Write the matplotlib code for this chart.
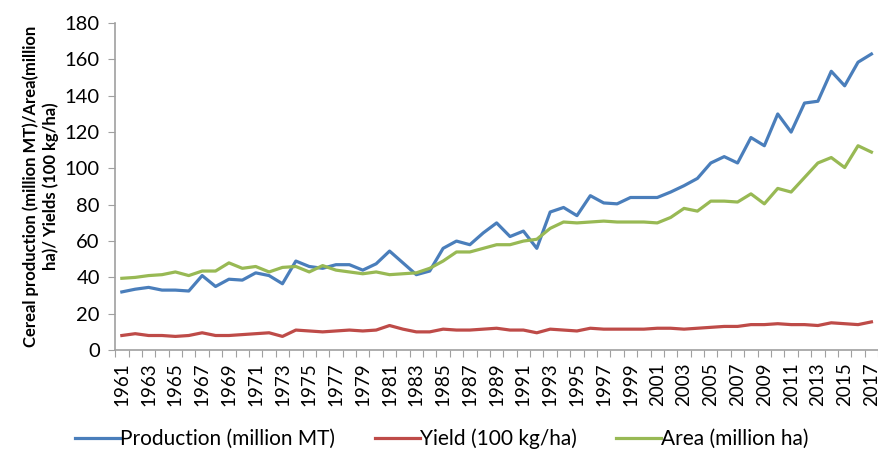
import matplotlib.pyplot as plt
from matplotlib.ticker import FixedLocator, NullFormatter

years = list(range(1961, 2018))

production = [
    32, 33.5, 34.5, 33, 33, 32.5, 41, 35, 39, 38.5,
    42.5, 41, 36.5, 49, 46, 45, 47, 47, 44, 47.5,
    54.5, 48, 41.5, 43.5, 56, 60, 58, 64.5, 70, 62.5,
    65.5, 56, 76, 78.5, 74, 85, 81, 80.5, 84, 84,
    84, 87, 90.5, 94.5, 103, 106.5, 103, 117, 112.5, 130,
    120, 136, 137, 153.5, 145.5, 158.5, 163,
]
yield_ = [
    8, 9, 8, 8, 7.5, 8, 9.5, 8, 8, 8.5,
    9, 9.5, 7.5, 11, 10.5, 10, 10.5, 11, 10.5, 11,
    13.5, 11.5, 10, 10, 11.5, 11, 11, 11.5, 12, 11,
    11, 9.5, 11.5, 11, 10.5, 12, 11.5, 11.5, 11.5, 11.5,
    12, 12, 11.5, 12, 12.5, 13, 13, 14, 14, 14.5,
    14, 14, 13.5, 15, 14.5, 14, 15.5,
]
area = [
    39.5, 40, 41, 41.5, 43, 41, 43.5, 43.5, 48, 45,
    46, 43, 45.5, 46, 43, 46.5, 44, 43, 42, 43,
    41.5, 42, 42.5, 45, 49, 54, 54, 56, 58, 58,
    60, 61, 67, 70.5, 70, 70.5, 71, 70.5, 70.5, 70.5,
    70, 73, 78, 76.5, 82, 82, 81.5, 86, 80.5, 89,
    87, 95, 103, 106, 100.5, 112.5, 109,
]

series = [
    ("Production (million MT)", production, "#4a7ebb"),
    ("Yield (100 kg/ha)", yield_, "#be4b48"),
    ("Area (million ha)", area, "#98b954"),
]

plt.rcParams["font.family"] = ["Lato", "DejaVu Sans"]

fig = plt.figure(figsize=(8.79, 4.54), dpi=100)
ax = fig.add_axes([0.131, 0.229, 0.868, 0.72])

for label, values, color in series:
    ax.plot(years, values, color=color, lw=2.3, label=label)

ax.set_xlim(years[0] - 0.5, years[-1] + 0.5)
ax.set_ylim(0, 180)
ax.set_yticks(range(0, 181, 20))

# ticks between categories, labels on every other year
ax.xaxis.set_major_locator(FixedLocator([y - 0.5 for y in years] + [years[-1] + 0.5]))
ax.xaxis.set_major_formatter(NullFormatter())
ax.set_xticks(years[::2], minor=True)
ax.set_xticklabels([str(y) for y in years[::2]], minor=True, rotation=90)
ax.tick_params(axis="x", which="minor", length=0, pad=9, labelsize=13.5)
ax.tick_params(axis="x", which="major", length=5, color="#a0a0a0")
ax.tick_params(axis="y", length=5, color="#a0a0a0", labelsize=14.5, pad=6)

for side in ("top", "right"):
    ax.spines[side].set_visible(False)
for side in ("left", "bottom"):
    ax.spines[side].set_color("#a0a0a0")
    ax.spines[side].set_linewidth(1.2)

ax.set_ylabel(
    "Cereal production (million MT)/Area(million\nha)/ Yields (100 kg/ha)",
    fontsize=12, fontweight="bold", labelpad=4, linespacing=1.3,
)

fig.legend(
    loc="lower center", bbox_to_anchor=(0.503, -0.03), ncol=3, frameon=False,
    fontsize=15, handlelength=2.16, handletextpad=0.0, columnspacing=1.9,
)

fig.savefig("out.png", dpi=100)
